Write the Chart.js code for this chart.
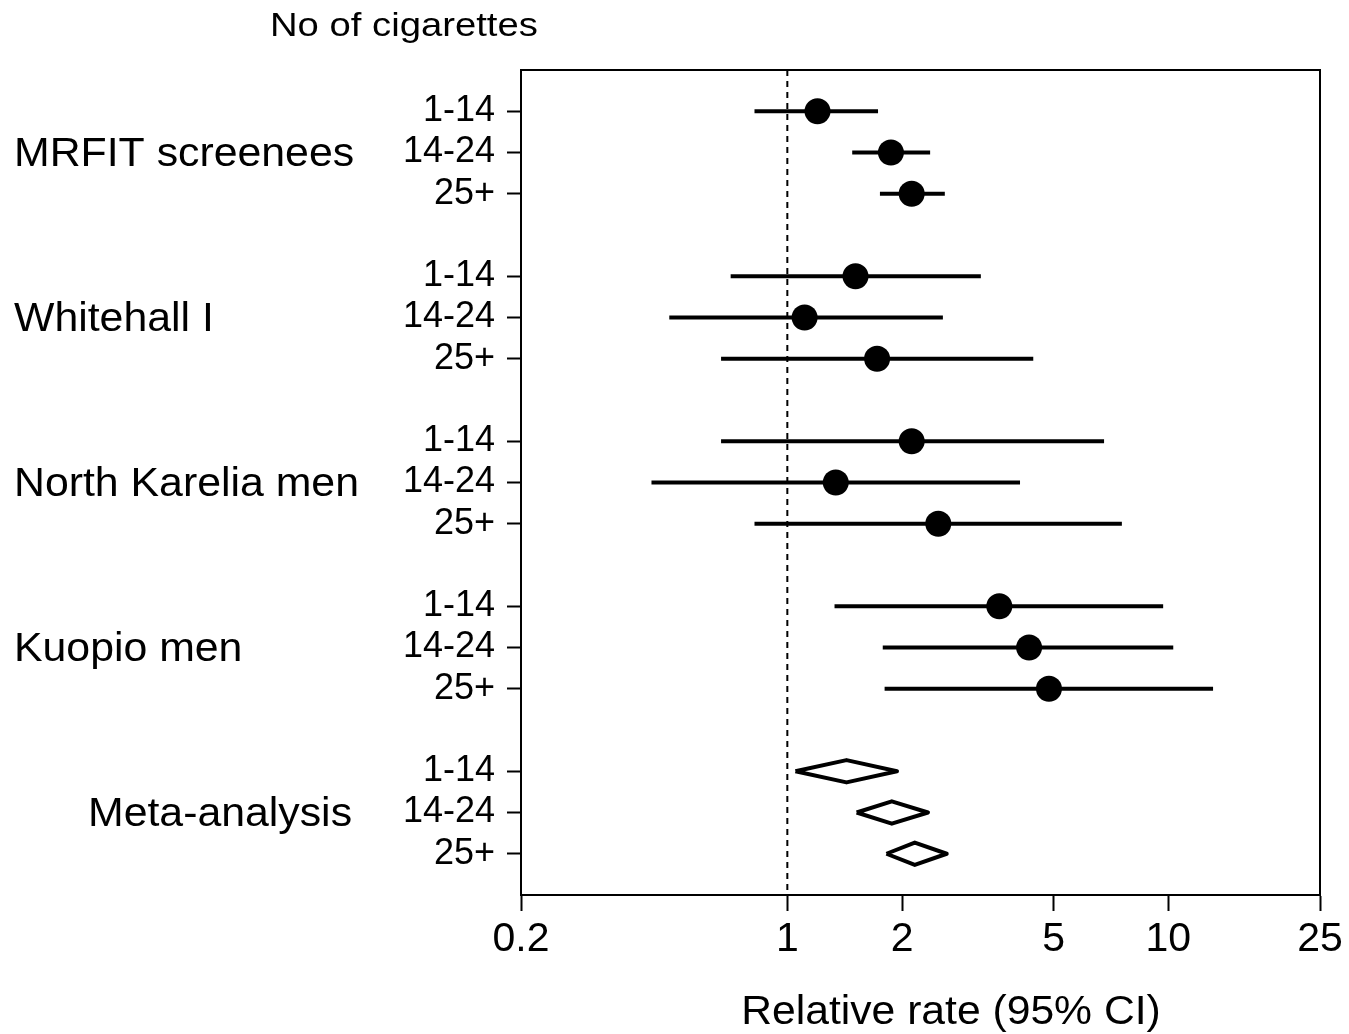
<!DOCTYPE html>
<html>
<head>
<meta charset="utf-8">
<script src="https://cdn.jsdelivr.net/npm/chart.js@4/dist/chart.umd.min.js"></script>
<style>
  body { margin: 0; background: #fff; }
</style>
</head>
<body>
<canvas id="forest_chart" width="1349" height="1034"></canvas>
<script>
// groups and dose categories
const groups = ['MRFIT screenees', 'Whitehall I', 'North Karelia men', 'Kuopio men', 'Meta-analysis'];
const doses = ['1-14', '14-24', '25+'];
const xTicks = [0.2, 1, 2, 5, 10, 25];

// relative rate and 95% CI per study (rows = studies, cols = doses)
const estimate = [
  [1.20, 1.87, 2.12],
  [1.51, 1.11, 1.72],
  [2.12, 1.34, 2.49],
  [3.60, 4.31, 4.86]
];
const lower = [
  [0.82, 1.48, 1.75],
  [0.71, 0.49, 0.67],
  [0.67, 0.44, 0.82],
  [1.33, 1.78, 1.80]
];
const upper = [
  [1.73, 2.37, 2.59],
  [3.22, 2.56, 4.42],
  [6.78, 4.08, 7.55],
  [9.69, 10.3, 13.1]
];

// pooled estimates
const metaEstimate = [1.43, 1.88, 2.16];
const metaLower = [1.05, 1.52, 1.82];
const metaUpper = [1.94, 2.34, 2.62];

const rowOf = (g, d) => 4 * g + d + 1;

const datasets = [];

// points
const pts = [];
estimate.forEach((row, g) => row.forEach((v, d) => pts.push({ x: v, y: rowOf(g, d) })));
datasets.push({
  data: pts,
  pointRadius: 13,
  pointBackgroundColor: '#000',
  pointBorderWidth: 0,
  showLine: false,
  order: 0
});

// CI lines
estimate.forEach((row, g) => row.forEach((v, d) => {
  datasets.push({
    data: [{ x: lower[g][d], y: rowOf(g, d) }, { x: upper[g][d], y: rowOf(g, d) }],
    showLine: true,
    borderColor: '#000',
    borderWidth: 4,
    pointRadius: 0,
    order: 1
  });
}));

// diamonds
const dh = 0.27;
metaEstimate.forEach((v, d) => {
  const r = rowOf(4, d);
  datasets.push({
    data: [
      { x: metaLower[d], y: r },
      { x: v, y: r - dh },
      { x: metaUpper[d], y: r },
      { x: v, y: r + dh },
      { x: metaLower[d], y: r }
    ],
    showLine: true,
    borderColor: '#000',
    borderWidth: 4,
    borderJoinStyle: 'round',
    pointRadius: 0,
    order: 1
  });
});

// no-effect line
datasets.push({
  data: [{ x: 1, y: 0 }, { x: 1, y: 20 }],
  showLine: true,
  borderColor: '#000',
  borderWidth: 2,
  borderDash: [6, 5],
  pointRadius: 0,
  order: 2
});

// text drawn a bit wider, like the original
function wideText(ctx, text, x, y, sx, align) {
  ctx.save();
  ctx.translate(x, y);
  ctx.scale(sx, 1);
  ctx.textAlign = align;
  ctx.fillText(text, 0, 0);
  ctx.restore();
}

const labelsPlugin = {
  id: 'labels',
  afterDraw(chart) {
    const ctx = chart.ctx;
    const y = chart.scales.y;
    const area = chart.chartArea;
    ctx.save();
    // frame
    ctx.strokeStyle = '#000';
    ctx.lineWidth = 2;
    ctx.strokeRect(area.left, area.top, area.right - area.left, area.bottom - area.top);

    ctx.fillStyle = '#000';
    ctx.textBaseline = 'middle';
    ctx.font = '40px "Liberation Sans", Arial, sans-serif';
    groups.forEach((name, g) => {
      const x = g === 4 ? 88 : 14;
      wideText(ctx, name, x, y.getPixelForValue(rowOf(g, 1)) + 2, 1.07, 'left');
    });

    ctx.font = '34px "Liberation Sans", Arial, sans-serif';
    wideText(ctx, 'No of cigarettes', 270, 27, 1.125, 'left');

    ctx.font = '40px "Liberation Sans", Arial, sans-serif';
    wideText(ctx, 'Relative rate (95% CI)', 951, 1013, 1.066, 'center');
    ctx.restore();
  }
};

new Chart(document.getElementById('forest_chart'), {
  type: 'scatter',
  data: { datasets: datasets },
  options: {
    responsive: false,
    animation: false,
    layout: { padding: { top: 70, right: 29, left: 0, bottom: 0 } },
    plugins: { legend: { display: false }, tooltip: { enabled: false } },
    scales: {
      x: {
        type: 'logarithmic',
        min: 0.2,
        max: 25,
        afterBuildTicks: s => { s.ticks = xTicks.map(v => ({ value: v })); },
        afterFit: s => { s.height = 139; },
        ticks: {
          color: '#000',
          font: { family: '"Liberation Sans", Arial, sans-serif', size: 41 },
          padding: 4,
          maxRotation: 0,
          autoSkip: false,
          callback: v => String(v)
        },
        grid: { drawOnChartArea: false, drawTicks: true, tickLength: 16, tickWidth: 2, tickColor: '#000' },
        border: { display: true, color: '#000', width: 2 }
      },
      y: {
        type: 'linear',
        min: 0,
        max: 20,
        reverse: true,
        afterBuildTicks: s => {
          const t = [];
          groups.forEach((_, g) => doses.forEach((_, d) => t.push({ value: rowOf(g, d) })));
          s.ticks = t;
        },
        afterFit: s => { s.width = 521; },
        ticks: {
          color: '#000',
          font: { family: '"Liberation Sans", Arial, sans-serif', size: 36 },
          padding: 12,
          autoSkip: false,
          callback: v => doses[(v - 1) % 4]
        },
        grid: { drawOnChartArea: false, drawTicks: true, tickLength: 14, tickWidth: 2, tickColor: '#000' },
        border: { display: true, color: '#000', width: 2 }
      }
    }
  },
  plugins: [labelsPlugin]
});
</script>
</body>
</html>
